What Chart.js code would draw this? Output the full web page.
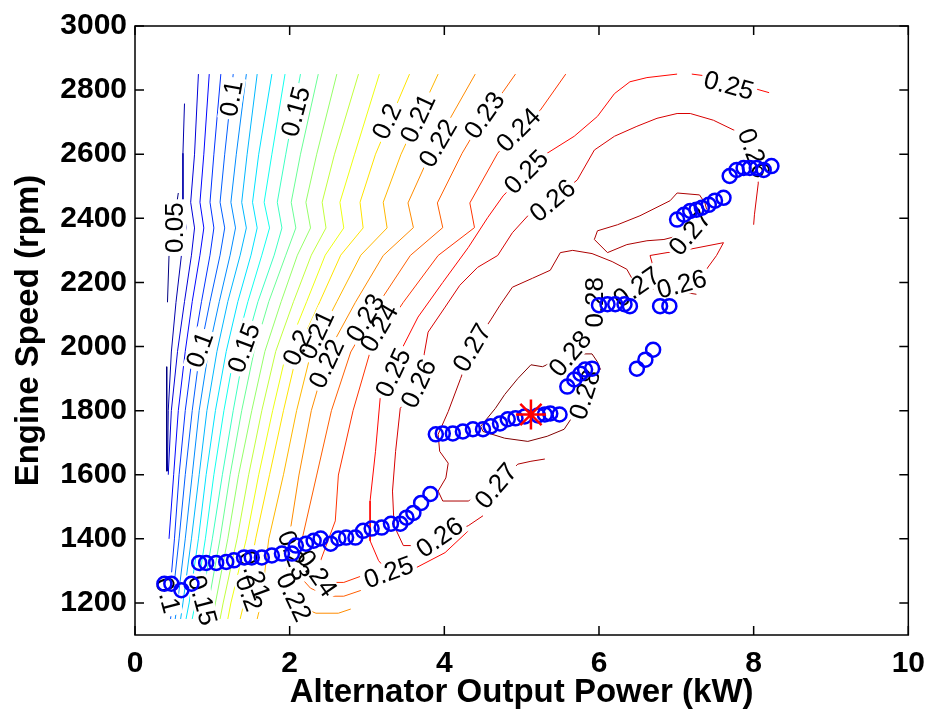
<!DOCTYPE html>
<html>
<head>
<meta charset="utf-8">
<script src="https://cdn.jsdelivr.net/npm/chart.js@4.4.1/dist/chart.umd.min.js"></script>
<style>
  html, body { margin: 0; padding: 0; background: #fff; }
</style>
</head>
<body>
<canvas id="ch" width="936" height="719"></canvas>
<script>
// axis ticks
const xTicks = [0, 2, 4, 6, 8, 10];
const yTicks = [1200, 1400, 1600, 1800, 2000, 2200, 2400, 2600, 2800, 3000];

// engine speed rows shared by the left-hand fan of efficiency contours
const rowRpm = [2850, 2600, 2450, 2370, 2285, 2140, 1985, 1800, 1600, 1400, 1200, 1150];

// fan contours: power (kW) on each row, null once the line has left the map
const fanLevels = [0.07, 0.08, 0.09, 0.10, 0.11, 0.12, 0.13, 0.14, 0.15, 0.16, 0.17, 0.18, 0.19, 0.20, 0.21];
const fanKw = [
  [0.82, 0.77, 0.72, 0.77, 0.73, 0.64, 0.55, 0.47, 0.43, null, null, null],
  [0.96, 0.89, 0.84, 0.89, 0.84, 0.74, 0.65, 0.56, 0.50, 0.44, null, null],
  [1.11, 1.02, 0.97, 1.02, 0.97, 0.86, 0.75, 0.65, 0.57, 0.51, 0.44, null],
  [1.27, 1.16, 1.10, 1.16, 1.10, 0.97, 0.84, 0.74, 0.65, 0.57, 0.48, 0.46],
  [1.44, 1.31, 1.24, 1.30, 1.23, 1.09, 0.95, 0.83, 0.74, 0.65, 0.55, 0.52],
  [1.58, 1.45, 1.38, 1.44, 1.36, 1.20, 1.06, 0.93, 0.83, 0.73, 0.62, 0.59],
  [1.77, 1.60, 1.52, 1.58, 1.50, 1.33, 1.18, 1.04, 0.92, 0.82, 0.70, 0.66],
  [1.94, 1.77, 1.67, 1.74, 1.64, 1.46, 1.29, 1.15, 1.02, 0.91, 0.78, 0.74],
  [2.14, 1.95, 1.84, 1.90, 1.80, 1.59, 1.41, 1.27, 1.13, 1.00, 0.86, 0.82],
  [2.37, 2.14, 2.02, 2.08, 1.95, 1.73, 1.54, 1.38, 1.23, 1.10, 0.95, 0.91],
  [2.61, 2.35, 2.21, 2.27, 2.10, 1.89, 1.68, 1.51, 1.34, 1.20, 1.04, 1.00],
  [2.89, 2.58, 2.42, 2.47, 2.28, 2.05, 1.82, 1.64, 1.47, 1.32, 1.14, 1.10],
  [3.16, 2.84, 2.65, 2.70, 2.46, 2.22, 1.96, 1.78, 1.60, 1.44, 1.24, 1.20],
  [3.55, 3.11, 2.91, 2.95, 2.66, 2.39, 2.10, 1.92, 1.74, 1.56, 1.41, 1.36],
  [3.92, 3.44, 3.21, 3.26, 2.92, 2.61, 2.28, 2.09, 1.92, 1.73, 1.63, 1.58]
];

// remaining contour pieces, each with its own path
const freeLevels = [0.05, 0.05, 0.06, 0.22, 0.23, 0.24, 0.25, 0.25, 0.26, 0.26, 0.27, 0.27, 0.28];
const freeKw = [
  [0.56, 0.44, 0.42],
  [0.41, 0.41],
  [0.64, 0.62, 0.62, 0.66, 0.60, 0.53, 0.47, 0.43, 0.42],
  [4.40, 3.82, 3.53, 3.60, 3.21, 2.85, 2.50, 2.28, 2.12, 1.99, 1.96, 2.05, 2.18, 2.34, 2.63, 2.79],
  [4.92, 4.76, 4.52, 4.23, 3.91, 3.98, 3.56, 3.16, 2.79, 2.54, 2.35, 2.16, 2.07, 2.12, 2.27, 2.50, 2.70, 2.92],
  [5.57, 5.24, 4.96, 4.69, 4.33, 4.39, 3.92, 3.47, 3.04, 2.82, 2.63, 2.59, 2.40, 2.35, 2.46, 2.70, 2.95],
  [7.01, 6.62, 6.40, 6.20, 5.98, 5.68, 5.33, 5.06, 4.76, 4.56, 4.31, 3.98, 3.66, 3.43, 3.34, 3.17, 3.11, 3.04, 3.04, 3.15, 3.28, 3.62, 4.01, 4.31],
  [7.20, 7.36, 7.68, 8.01, 8.20],
  [8.00, 8.01, 8.06, 8.00, 7.78, 7.48, 7.18, 7.01, 6.75, 6.49, 6.20, 5.94, 5.72, 5.40, 5.08, 4.88, 4.69, 4.43, 4.20, 4.01, 3.79, 3.74, 3.67, 3.43, 3.37, 3.33, 3.35, 3.47, 3.66, 3.94, 4.31, 4.50],
  [6.75, 6.71, 6.66, 6.88, 7.10, 7.61, 7.52, 7.36, 7.26],
  [7.26, 7.10, 6.75, 6.49, 6.36, 6.17, 5.91, 5.66, 5.50, 5.37, 5.14, 4.88, 4.72, 4.60, 4.36, 4.21, 4.05, 3.92, 3.94, 4.05, 4.02, 3.92, 3.98, 4.31, 4.67, 4.95, 5.12, 5.30],
  [7.30, 7.01, 6.92, 6.53, 6.24, 5.98, 5.94, 6.11, 6.36, 6.62, 6.84, 7.18, 7.42, 7.37, 7.30],
  [5.98, 6.02, 5.82, 5.66, 5.55, 5.33, 5.08, 4.78, 4.50, 4.47, 4.66, 4.78, 4.95, 5.12, 5.27, 5.63, 5.91, 5.98]
];
const freeRpm = [
  [2479, 2284, 2138],
  [1937, 1611],
  [2758, 2603, 2448, 2371, 2284, 2138, 1983, 1800, 1611],
  [2850, 2603, 2448, 2371, 2284, 2138, 1983, 1800, 1599, 1398, 1286, 1218, 1184, 1168, 1168, 1181],
  [2850, 2795, 2721, 2603, 2448, 2371, 2284, 2138, 1983, 1800, 1599, 1398, 1348, 1286, 1246, 1221, 1221, 1239],
  [2850, 2737, 2675, 2603, 2448, 2371, 2284, 2138, 1983, 1800, 1599, 1456, 1332, 1292, 1264, 1264, 1286],
  [2850, 2839, 2826, 2789, 2718, 2656, 2603, 2544, 2470, 2402, 2309, 2200, 2092, 1983, 1918, 1838, 1673, 1518, 1394, 1332, 1295, 1308, 1357, 1425],
  [2850, 2845, 2814, 2805, 2792],
  [2380, 2411, 2510, 2603, 2671, 2706, 2727, 2727, 2712, 2687, 2656, 2613, 2520, 2455, 2408, 2355, 2284, 2247, 2191, 2123, 2045, 1977, 1884, 1807, 1673, 1549, 1441, 1379, 1379, 1404, 1441, 1472],
  [2200, 2241, 2284, 2293, 2300, 2324, 2284, 2231, 2200],
  [2163, 2169, 2179, 2185, 2241, 2265, 2290, 2300, 2293, 2238, 2213, 2185, 2129, 2083, 1996, 1900, 1797, 1726, 1673, 1636, 1590, 1549, 1518, 1518, 1565, 1633, 1642, 1649],
  [2473, 2479, 2455, 2408, 2380, 2361, 2334, 2293, 2318, 2330, 2334, 2355, 2402, 2448, 2473],
  [1952, 1928, 1850, 1782, 1742, 1720, 1704, 1714, 1735, 1751, 1807, 1850, 1900, 1943, 1937, 1977, 1977, 1952]
];

// inline contour labels
const labelText = ['0.05', '0.1', '0.15', '0.2', '0.21', '0.22', '0.23', '0.24', '0.25', '0.26',
  '0.25', '0.26', '0.27', '0.27', '0.26', '0.28', '0.28', '0.28', '0.27', '0.26', '0.25', '0.24',
  '0.23', '0.22', '0.21', '0.2', '0.15', '0.1', '0.27', '0.26', '0.25', '0.24', '0.23', '0.22',
  '0.21', '0.2', '0.15', '0.1'];
const labelKw = [0.52, 1.25, 2.08, 3.26, 3.66, 3.92, 4.52, 4.96, 5.06, 5.40,
  7.68, 8.00, 7.18, 6.49, 7.07, 5.95, 5.63, 5.82, 4.36, 3.67, 3.34, 3.16,
  2.98, 2.48, 2.35, 2.10, 1.41, 0.84, 4.67, 3.94, 3.28, 2.35, 2.05, 2.05,
  1.54, 1.47, 0.87, 0.42];
const labelRpm = [2371, 2774, 2733, 2702, 2712, 2634, 2721, 2675, 2544, 2455,
  2814, 2603, 2355, 2185, 2194, 2138, 1977, 1850, 1996, 1884, 1918, 2058,
  2089, 1946, 2036, 1996, 1996, 1990, 1565, 1404, 1295, 1292, 1348, 1218,
  1286, 1230, 1208, 1224];
const labelAngle = [-90, -80, -75, -65, -65, -60, -55, -45, -45, -40,
  15, 70, -50, -35, -15, -90, -50, -72, -60, -65, -65, -60,
  -60, -65, -65, -65, -70, -70, -50, -35, -20, 55, 70, 65,
  70, 70, 75, 75];

// measured operating points
const opKw = [0.38, 0.47, 0.60, 0.73, 0.83, 0.92, 1.05, 1.18, 1.28, 1.41, 1.51, 1.64, 1.77, 1.90, 2.03,
  2.08, 2.21, 2.31, 2.40, 2.53, 2.63, 2.73, 2.85, 2.95, 3.06, 3.19, 3.31, 3.43, 3.51, 3.60, 3.70, 3.82,
  3.89, 3.98, 4.11, 4.24, 4.37, 4.50, 4.60, 4.72, 4.82, 4.92, 5.04, 5.21, 5.30, 5.37, 5.49,
  5.59, 5.68, 5.76, 5.82, 5.91, 6.00, 6.11, 6.21, 6.33, 6.40, 6.79, 6.91, 6.49, 6.60, 6.70,
  7.01, 7.10, 7.18, 7.26, 7.33, 7.42, 7.50, 7.61, 7.69, 7.78, 7.87, 7.95, 8.04, 8.13, 8.23];
const opRpm = [1260, 1260, 1240, 1260, 1325, 1325, 1325, 1328, 1333, 1342, 1342, 1342, 1348, 1354, 1354,
  1379, 1385, 1394, 1401, 1385, 1401, 1404, 1404, 1425, 1432, 1435, 1447, 1447, 1466, 1481, 1512, 1540,
  1726, 1729, 1729, 1735, 1742, 1742, 1751, 1760, 1773, 1776, 1782, 1785, 1788, 1791, 1788,
  1875, 1897, 1915, 1928, 1931, 2129, 2132, 2132, 2132, 2126, 2126, 2126, 1931, 1959, 1990,
  2396, 2411, 2423, 2427, 2433, 2442, 2455, 2464, 2532, 2551, 2557, 2557, 2557, 2551, 2563];

// best efficiency point
const bestKw = [5.12];
const bestRpm = [1788];

const FONT = '"Liberation Sans", Arial, Helvetica, sans-serif';

// MATLAB jet colour map spread over the contour levels
function jet(v) {
  const t = (v - 0.05) / (0.28 - 0.05);
  const f = c => Math.round(255 * Math.max(0, Math.min(1, 1.5 - Math.abs(4 * t - c))));
  return 'rgb(' + f(3) + ',' + f(2) + ',' + f(1) + ')';
}

function contour(level, pts) {
  return {
    data: pts,
    showLine: true,
    pointRadius: 0,
    borderColor: jet(level),
    borderWidth: 1,
    tension: 0,
    fill: false
  };
}

var datasets = [
  {
    data: bestKw.map((x, i) => ({x: x, y: bestRpm[i]})),
    pointStyle: 'star',
    pointRadius: 15,
    borderColor: '#ff0000',
    borderWidth: 2.5,
    showLine: false
  },
  {
    data: opKw.map((x, i) => ({x: x, y: opRpm[i]})),
    pointStyle: 'circle',
    pointRadius: 7,
    borderColor: '#0000ff',
    backgroundColor: 'rgba(0,0,0,0)',
    borderWidth: 2.5,
    showLine: false
  }
];

fanLevels.forEach(function (lv, i) {
  var pts = [];
  fanKw[i].forEach(function (x, j) {
    if (x !== null) pts.push({x: x, y: rowRpm[j]});
  });
  datasets.push(contour(lv, pts));
});

freeLevels.forEach(function (lv, i) {
  datasets.push(contour(lv, freeKw[i].map((x, j) => ({x: x, y: freeRpm[i][j]}))));
});

// labels go on after the contours and before the markers (dataset 1)
const contourLabels = {
  id: 'contourLabels',
  beforeDatasetDraw(chart, args) {
    if (args.index !== 1) return;
    const ctx = chart.ctx;
    const x = chart.scales.x, y = chart.scales.y;
    ctx.save();
    ctx.font = '26px ' + FONT;
    ctx.textAlign = 'center';
    ctx.textBaseline = 'middle';
    const items = labelText.map(function (t, i) {
      return {
        t: t,
        px: x.getPixelForValue(labelKw[i]),
        py: y.getPixelForValue(labelRpm[i]),
        a: labelAngle[i] * Math.PI / 180,
        w: ctx.measureText(t).width
      };
    });
    ctx.fillStyle = '#ffffff';
    items.forEach(function (p) {
      ctx.save();
      ctx.translate(p.px, p.py);
      ctx.rotate(p.a);
      ctx.fillRect(-p.w / 2 - 3, -11, p.w + 6, 22);
      ctx.restore();
    });
    ctx.fillStyle = '#000000';
    items.forEach(function (p) {
      ctx.save();
      ctx.translate(p.px, p.py);
      ctx.rotate(p.a);
      ctx.fillText(p.t, 0, 1);
      ctx.restore();
    });
    ctx.restore();
  }
};

// boxed axes with inward ticks on all four sides
const frame = {
  id: 'frame',
  afterDatasetsDraw(chart) {
    const ctx = chart.ctx;
    const a = chart.chartArea;
    const x = chart.scales.x, y = chart.scales.y;
    ctx.save();
    ctx.strokeStyle = '#000';
    ctx.lineWidth = 1.5;
    ctx.strokeRect(a.left, a.top, a.right - a.left, a.bottom - a.top);
    ctx.beginPath();
    xTicks.forEach(function (v) {
      const p = x.getPixelForValue(v);
      ctx.moveTo(p, a.bottom); ctx.lineTo(p, a.bottom - 9);
      ctx.moveTo(p, a.top); ctx.lineTo(p, a.top + 9);
    });
    yTicks.forEach(function (v) {
      const p = y.getPixelForValue(v);
      ctx.moveTo(a.left, p); ctx.lineTo(a.left + 9, p);
      ctx.moveTo(a.right, p); ctx.lineTo(a.right - 9, p);
    });
    ctx.stroke();
    ctx.restore();
  }
};

new Chart(document.getElementById('ch'), {
  type: 'scatter',
  data: { datasets: datasets },
  options: {
    responsive: false,
    animation: false,
    events: [],
    layout: { padding: { left: 0, right: 24, top: 22, bottom: 0 } },
    plugins: {
      legend: { display: false },
      tooltip: { enabled: false }
    },
    scales: {
      x: {
        type: 'linear',
        min: 0,
        max: 10,
        afterBuildTicks: function (s) { s.ticks = xTicks.map(v => ({value: v})); },
        afterFit: function (s) { s.height = 84; },
        grid: { display: false, drawTicks: false },
        border: { display: false },
        ticks: {
          color: '#000',
          padding: 11,
          maxRotation: 0,
          font: { family: FONT, size: 30, weight: 'bold' },
          callback: v => String(v)
        },
        title: {
          display: true,
          text: 'Alternator Output Power (kW)',
          color: '#000',
          font: { family: FONT, size: 33, weight: 'bold' },
          padding: { top: 0, bottom: 6 }
        }
      },
      y: {
        type: 'linear',
        min: 1100,
        max: 3000,
        afterBuildTicks: function (s) { s.ticks = yTicks.map(v => ({value: v})); },
        afterFit: function (s) { s.width = 135; },
        grid: { display: false, drawTicks: false },
        border: { display: false },
        ticks: {
          color: '#000',
          padding: 8,
          font: { family: FONT, size: 30, weight: 'bold' },
          callback: v => String(v)
        },
        title: {
          display: true,
          text: 'Engine Speed (rpm)',
          color: '#000',
          font: { family: FONT, size: 33, weight: 'bold' },
          padding: { top: 9, bottom: 0 }
        }
      }
    }
  },
  plugins: [contourLabels, frame]
});
</script>
</body>
</html>
